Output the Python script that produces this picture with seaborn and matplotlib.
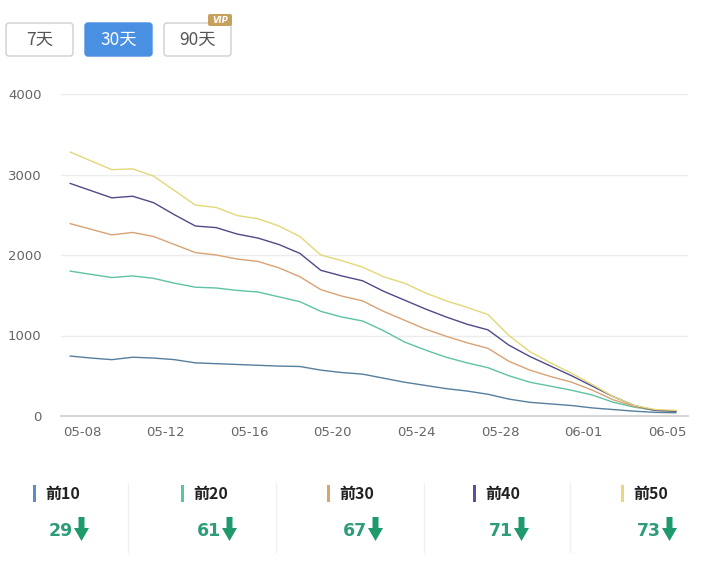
import matplotlib
matplotlib.use("Agg")
import matplotlib.pyplot as plt
import matplotlib.transforms as mtransforms
from matplotlib.patches import FancyBboxPatch, Polygon
import pandas as pd
import seaborn as sns

# data (30 days, 05-08 .. 06-06)
dates = ["05-08", "05-09", "05-10", "05-11", "05-12", "05-13", "05-14", "05-15",
         "05-16", "05-17", "05-18", "05-19", "05-20", "05-21", "05-22", "05-23",
         "05-24", "05-25", "05-26", "05-27", "05-28", "05-29", "05-30", "05-31",
         "06-01", "06-02", "06-03", "06-04", "06-05", "06-06"]

top10 = [745, 720, 700, 730, 720, 700, 660, 650, 640, 630, 620, 615, 570, 540, 520,
         470, 420, 380, 340, 310, 270, 210, 170, 150, 130, 100, 80, 60, 45, 40]
top20 = [1800, 1760, 1720, 1740, 1710, 1650, 1600, 1590, 1560, 1540, 1480, 1420, 1300,
         1230, 1180, 1060, 920, 820, 730, 660, 600, 500, 420, 370, 320, 260, 170, 110,
         70, 60]
top30 = [2390, 2320, 2250, 2280, 2230, 2130, 2030, 2000, 1950, 1920, 1840, 1730, 1570,
         1490, 1430, 1300, 1190, 1080, 990, 910, 840, 680, 570, 490, 420, 320, 200, 120,
         70, 60]
top40 = [2890, 2800, 2710, 2730, 2650, 2500, 2360, 2340, 2260, 2210, 2130, 2020, 1810,
         1740, 1680, 1550, 1440, 1330, 1230, 1140, 1070, 880, 740, 620, 500, 370, 240,
         130, 70, 60]
top50 = [3280, 3170, 3060, 3070, 2980, 2800, 2620, 2590, 2490, 2450, 2360, 2230, 2000,
         1930, 1850, 1730, 1650, 1530, 1430, 1350, 1260, 1000, 800, 660, 530, 390, 240,
         130, 80, 70]

series_names = ["前10", "前20", "前30", "前40", "前50"]
changes = ["29", "61", "67", "71", "73"]
buttons = ["7天", "30天", "90天"]
y_ticks = [0, 1000, 2000, 3000, 4000]

line_colors = ["#557f9f", "#5ec2a6", "#d9a274", "#4f4a88", "#e2d877"]
mark_colors = ["#5b8cc8", "#5cc3a3", "#d9a56b", "#5a4fa0", "#ecd57a"]

sns.set_theme(style="white")
plt.rcParams["font.family"] = ["Noto Sans CJK SC", "DejaVu Sans"]

W, H = 721, 571
fig = plt.figure(figsize=(W / 100, H / 100), dpi=100)

ax = fig.add_axes([61 / W, 1 - 416 / H, (688 - 61) / W, (416 - 94) / H])

df = pd.DataFrame({"day": range(len(dates)), "前10": top10, "前20": top20,
                   "前30": top30, "前40": top40, "前50": top50})
long_df = df.melt(id_vars="day", var_name="series", value_name="value")

sns.lineplot(data=long_df, x="day", y="value", hue="series", hue_order=series_names,
             palette=line_colors, linewidth=1.0, legend=False, ax=ax)

ax.set_xlim(-0.43, 29.57)
ax.set_ylim(0, 4000)
ax.set_yticks(y_ticks)
ax.set_yticklabels([str(v) for v in y_ticks])
tick_pos = list(range(0, len(dates), 4))
ax.set_xticks(tick_pos)
ax.set_xticklabels([dates[i] for i in tick_pos])
ax.set_xlabel("")
ax.set_ylabel("")

ax.grid(axis="y", color="#ececec", linewidth=1.0)
for side in ["top", "right", "left"]:
    ax.spines[side].set_visible(False)
ax.spines["bottom"].set_color("#d6d6d6")
ax.spines["bottom"].set_linewidth(1.5)
ax.tick_params(axis="y", length=0, pad=14, labelsize=9.5, labelcolor="#666666")
ax.tick_params(axis="x", length=5, width=0.8, color="#d6d6d6", pad=2,
               labelsize=9.5, labelcolor="#666666")
# labels sit a bit to the right of their ticks in the reference
shift = mtransforms.ScaledTranslation(12 / 100, 0, fig.dpi_scale_trans)
for lab in ax.get_xticklabels():
    lab.set_transform(lab.get_transform() + shift)
for lab in ax.get_xticklabels() + ax.get_yticklabels():
    lab.set_family("DejaVu Sans")

# overlay in pixel coordinates for the buttons and the summary row
ov = fig.add_axes([0, 0, 1, 1], facecolor="none")
ov.set_xlim(0, W)
ov.set_ylim(H, 0)
ov.axis("off")

btn_x = [5, 84, 163]
for i, label in enumerate(buttons):
    active = i == 1
    box = FancyBboxPatch((btn_x[i] + 1, 23), 67, 33,
                         boxstyle="round,pad=0,rounding_size=3",
                         facecolor="#4a90e2" if active else "white",
                         edgecolor="#4a90e2" if active else "#cfcfcf", linewidth=1)
    ov.add_patch(box)
    ov.text(btn_x[i] + 34.5, 40, label, ha="center", va="center", fontsize=12.5,
            color="white" if active else "#555555")

vip = FancyBboxPatch((208, 14), 24, 12, boxstyle="round,pad=0,rounding_size=2",
                     facecolor="#c7a05c", edgecolor="none")
ov.add_patch(vip)
ov.text(220, 20.5, "VIP", ha="center", va="center", fontsize=6, color="white",
        fontweight="bold", style="italic", family="DejaVu Sans")

col_x = [33, 181, 327, 473, 621]
for i, name in enumerate(series_names):
    x0 = col_x[i]
    ov.add_patch(FancyBboxPatch((x0, 485), 3, 17, boxstyle="square,pad=0",
                                facecolor=mark_colors[i], edgecolor="none"))
    ov.text(x0 + 12, 494, name, ha="left", va="center", fontsize=11.5,
            fontweight="bold", color="#222222")
    ov.text(x0 + 40, 531, changes[i], ha="right", va="center", fontsize=12.5,
            fontweight="bold", color="#2e9c7a", family="DejaVu Sans")
    cx = x0 + 48.5
    arrow = Polygon([(cx - 3, 517), (cx + 3, 517), (cx + 3, 528),
                     (cx + 7.5, 528), (cx, 541), (cx - 7.5, 528), (cx - 3, 528)],
                    closed=True, facecolor="#1f9a6c", edgecolor="none")
    ov.add_patch(arrow)

for sx in [128, 276, 424, 570]:
    ov.plot([sx, sx], [483, 552], color="#f0f0f0", linewidth=1)

fig.savefig("out.png", dpi=100, facecolor="white")
